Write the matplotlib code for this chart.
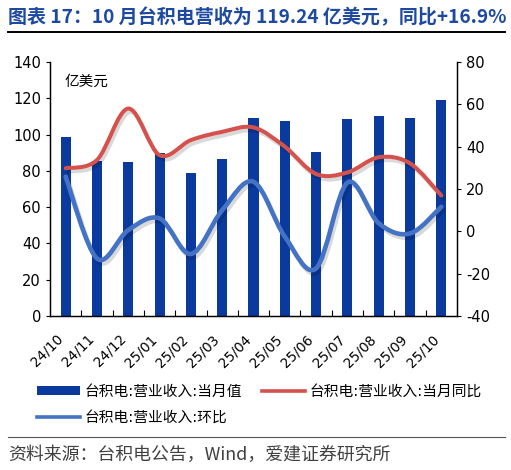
import numpy as np
import matplotlib
matplotlib.use("Agg")
import matplotlib.pyplot as plt
import matplotlib.patheffects as pe
from matplotlib.path import Path
from matplotlib.patches import PathPatch, Patch
from matplotlib.lines import Line2D

plt.rcParams['font.family'] = ['DejaVu Sans', 'Noto Sans CJK SC']
plt.rcParams['axes.unicode_minus'] = False

# data
months = ["24/10", "24/11", "24/12", "25/01", "25/02", "25/03", "25/04",
          "25/05", "25/06", "25/07", "25/08", "25/09", "25/10"]
revenue = [98.5, 85.4, 85.0, 89.7, 79.0, 86.4, 109.3,
           107.5, 90.6, 108.6, 110.0, 109.0, 119.24]
yoy = [29.8, 33.7, 58.0, 36.0, 43.1, 47.0, 49.1,
       40.0, 27.1, 27.8, 35.0, 32.1, 16.9]
mom = [25.8, -12.8, 0.6, 6.1, -10.7, 10.0, 23.4,
       -2.5, -17.5, 23.0, 3.8, -1.0, 11.6]

BAR_COLOR = '#0B3A9E'
RED = '#D5514C'
BLUE = '#4472C4'
TITLE_COLOR = '#1D4AA0'


def smooth_path(xs, ys):
    """Excel-style smoothed line: Catmull-Rom segments as cubic Beziers."""
    pts = np.column_stack([xs, ys]).astype(float)
    padded = np.vstack([pts[0], pts, pts[-1]])
    verts = [pts[0]]
    codes = [Path.MOVETO]
    for i in range(1, len(padded) - 2):
        p0, p1, p2, p3 = padded[i - 1], padded[i], padded[i + 1], padded[i + 2]
        verts += [p1 + (p2 - p0) / 6, p2 - (p3 - p1) / 6, p2]
        codes += [Path.CURVE4] * 3
    return Path(verts, codes)


fig = plt.figure(figsize=(5.11, 4.70), dpi=100)
ax = fig.add_axes([50 / 511, 1 - 316 / 470, 407 / 511, 254 / 470])
ax2 = ax.twinx()

x = np.arange(len(months))
ax.bar(x, revenue, width=0.32, color=BAR_COLOR, zorder=2)
ax.set_xlim(-0.5, len(months) - 0.5)
ax.set_ylim(0, 140)
ax.set_yticks(range(0, 141, 20))
ax.set_xticks(x)
ax.set_xticklabels(months, rotation=45, ha='right', fontsize=9.8)
ax.set_xticks(np.arange(0.5, len(months) - 1, 1), minor=True)
ax.tick_params(axis='x', which='major', length=0, pad=11.5)
ax.tick_params(axis='x', which='minor', direction='in', length=4, width=0.8)
ax.tick_params(axis='y', labelsize=10.5, length=3, width=0.8)
ax.text(0.035, 0.955, "亿美元", transform=ax.transAxes, fontsize=10.5,
        ha='left', va='top')

for a in (ax, ax2):
    a.spines['top'].set_visible(False)
    for s in ('left', 'right', 'bottom'):
        a.spines[s].set_linewidth(0.9)

ax2.set_ylim(-40, 80)
ax2.set_yticks(range(-40, 81, 20))
ax2.tick_params(axis='y', labelsize=10.5, length=3, width=0.8)

shadow = [pe.SimpleLineShadow(offset=(1.5, -2.5), alpha=0.15, shadow_color='black'),
          pe.Normal()]
for vals, col, lw in ((yoy, RED, 2.9), (mom, BLUE, 3.3)):
    patch = PathPatch(smooth_path(x, vals), fill=False, edgecolor=col,
                      linewidth=lw, capstyle='round', zorder=3)
    patch.set_path_effects(shadow)
    ax2.add_patch(patch)

# legend: two blocks so the second column sits where the reference puts it
leg_kw = dict(loc='upper left', frameon=False, fontsize=10.6, handlelength=2.9,
              handleheight=0.55, handletextpad=0.3, labelspacing=0.75,
              borderpad=0, borderaxespad=0)
left_handles = [
    Patch(facecolor=BAR_COLOR, edgecolor='none', label='台积电:营业收入:当月值'),
    Line2D([0], [0], color=BLUE, linewidth=2.6, label='台积电:营业收入:环比'),
]
right_handles = [
    Line2D([0], [0], color=RED, linewidth=2.6, label='台积电:营业收入:当月同比'),
]
leg1 = fig.legend(handles=left_handles, bbox_to_anchor=(37 / 511, 1 - 384 / 470), **leg_kw)
fig.legend(handles=right_handles, bbox_to_anchor=(262 / 511, 1 - 384 / 470), **leg_kw)

# header / footer
fig.text(8 / 511, 1 - 17 / 470, "图表 17：10 月台积电营收为 119.24 亿美元，同比+16.9%",
         fontsize=13.7, fontweight='bold', color=TITLE_COLOR, ha='left', va='center',
         family=['Noto Sans CJK SC', 'DejaVu Sans'])
fig.add_artist(Line2D([8 / 511, 505 / 511], [1 - 32 / 470, 1 - 32 / 470],
                      color='black', linewidth=1.4, transform=fig.transFigure))
fig.add_artist(Line2D([8 / 511, 505 / 511], [1 - 437 / 470, 1 - 437 / 470],
                      color='#555555', linewidth=0.8, transform=fig.transFigure))
fig.text(8 / 511, 1 - 455 / 470, "资料来源：台积电公告，Wind，爱建证券研究所",
         fontsize=12.9, color='#404040', ha='left', va='center',
         family=['Noto Sans CJK SC', 'DejaVu Sans'])

fig.savefig("out.png", dpi=100)
